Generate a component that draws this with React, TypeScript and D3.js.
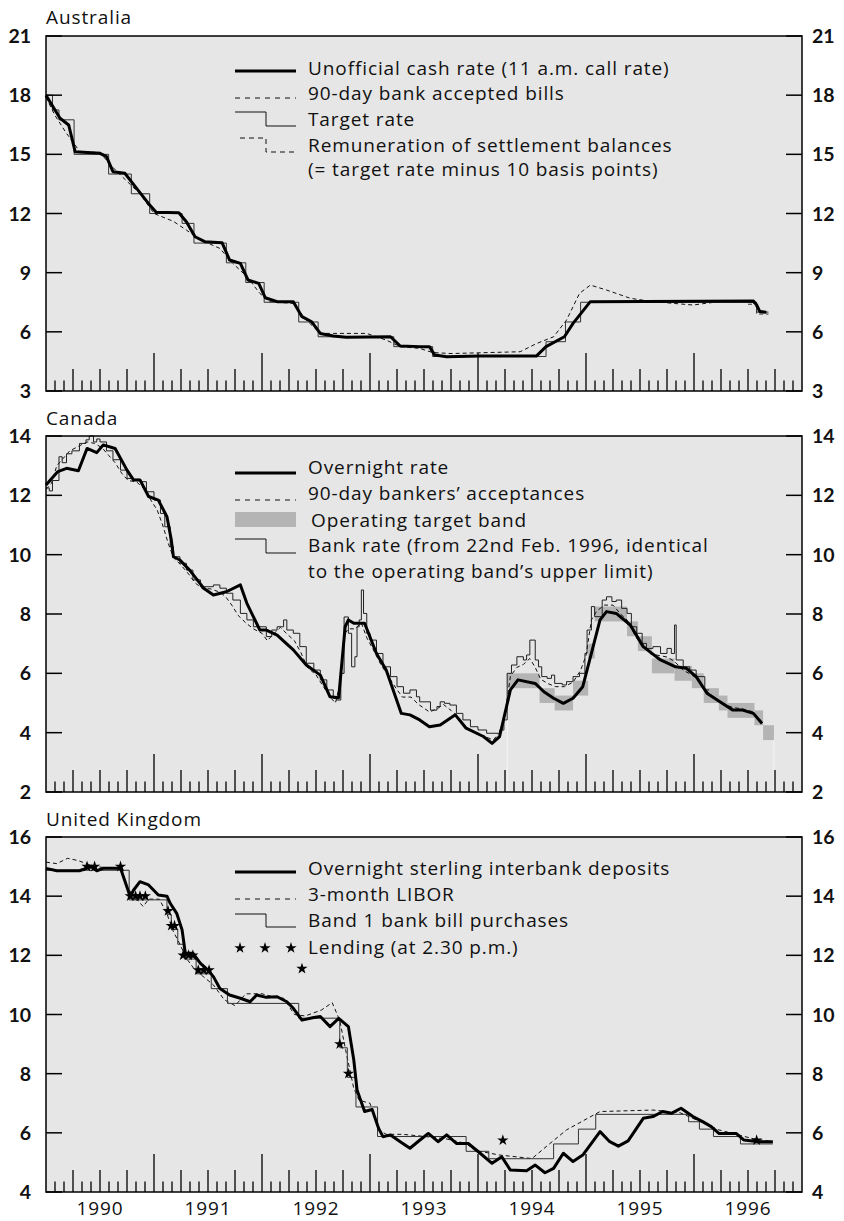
import React from "react";
import * as d3 from "d3";

type Pt = [number, number];

// ---------- shared ----------
const years = [1990, 1991, 1992, 1993, 1994, 1995, 1996];

// ---------- Australia ----------
const auTicks = [3, 6, 9, 12, 15, 18, 21];
const auCash: Pt[] = [
  [1990.0, 18.0], [1990.13, 16.83], [1990.21, 16.49], [1990.27, 15.13], [1990.5, 15.05], [1990.56, 14.88],
  [1990.62, 14.12], [1990.73, 14.04], [1990.85, 13.2], [1990.95, 12.5], [1991.02, 12.06], [1991.23, 12.04],
  [1991.3, 11.58], [1991.38, 10.82], [1991.47, 10.57], [1991.63, 10.52], [1991.7, 9.64], [1991.8, 9.47],
  [1991.87, 8.63], [1991.97, 8.46], [1992.03, 7.73], [1992.14, 7.53], [1992.29, 7.53], [1992.37, 6.77],
  [1992.46, 6.51], [1992.54, 5.92], [1992.66, 5.79], [1992.78, 5.72], [1993.19, 5.75], [1993.28, 5.28],
  [1993.46, 5.25], [1993.55, 5.25], [1993.6, 4.82], [1993.71, 4.74], [1994.02, 4.77], [1994.54, 4.77],
  [1994.63, 5.25], [1994.8, 5.75], [1994.88, 6.43], [1995.04, 7.53], [1996.55, 7.56], [1996.58, 7.36],
  [1996.61, 7.02], [1996.67, 6.99],
];
const auBills: Pt[] = [
  [1990.0, 17.9], [1990.08, 17.0], [1990.19, 16.06], [1990.28, 15.4], [1990.31, 15.1], [1990.5, 15.1],
  [1990.59, 14.5], [1990.69, 13.95], [1990.87, 13.0], [1991.0, 12.0], [1991.18, 11.6], [1991.3, 11.16],
  [1991.43, 10.66], [1991.61, 10.23], [1991.73, 9.47], [1991.86, 8.8], [1991.98, 7.95], [1992.07, 7.53],
  [1992.29, 7.44], [1992.41, 6.6], [1992.54, 5.92], [1992.66, 5.92], [1992.97, 5.92], [1993.15, 5.58],
  [1993.28, 5.25], [1993.46, 5.16], [1993.58, 4.95], [1993.75, 4.9], [1994.1, 4.95], [1994.39, 4.99],
  [1994.54, 5.4], [1994.7, 5.75], [1994.82, 6.6], [1994.94, 7.95], [1995.04, 8.37], [1995.19, 8.12],
  [1995.41, 7.7], [1995.62, 7.53], [1995.99, 7.36], [1996.23, 7.53], [1996.54, 7.53], [1996.6, 7.1],
  [1996.67, 7.02],
];
const auTarget: Pt[] = [
  [1990.0, 18.0], [1990.06, 17.25], [1990.12, 16.75], [1990.26, 15.0], [1990.58, 14.0], [1990.79, 13.0],
  [1990.96, 12.0], [1991.26, 11.5], [1991.37, 10.5], [1991.67, 9.5], [1991.85, 8.5], [1992.02, 7.5],
  [1992.34, 6.5], [1992.52, 5.75], [1993.22, 5.25], [1993.58, 4.75], [1994.63, 5.5], [1994.81, 6.5],
  [1994.95, 7.5], [1996.58, 7.0], [1996.69, 7.0],
];
const auRemun: Pt[] = [
  [1996.5, 7.4], [1996.58, 6.9], [1996.69, 6.9],
];

// ---------- Canada ----------
const caTicks = [2, 4, 6, 8, 10, 12, 14];
const caOvernight: Pt[] = [
  [1990.0, 12.35], [1990.11, 12.8], [1990.19, 12.91], [1990.3, 12.83], [1990.38, 13.58], [1990.47, 13.44],
  [1990.53, 13.7], [1990.64, 13.58], [1990.75, 12.85], [1990.81, 12.52], [1990.87, 12.52], [1990.95, 11.96],
  [1991.04, 11.84], [1991.12, 11.28], [1991.16, 10.5], [1991.18, 9.93], [1991.24, 9.82], [1991.33, 9.48],
  [1991.46, 8.87], [1991.55, 8.64], [1991.67, 8.75], [1991.8, 8.98], [1991.86, 8.36], [1991.98, 7.46],
  [1992.04, 7.46], [1992.14, 7.29], [1992.29, 6.79], [1992.41, 6.28], [1992.54, 5.94], [1992.63, 5.21],
  [1992.71, 5.18], [1992.77, 7.57], [1992.8, 7.8], [1992.85, 7.69], [1992.95, 7.69], [1993.06, 6.67],
  [1993.15, 6.11], [1993.29, 4.65], [1993.37, 4.6], [1993.46, 4.43], [1993.55, 4.2], [1993.65, 4.26],
  [1993.79, 4.6], [1993.89, 4.15], [1994.05, 3.87], [1994.13, 3.64], [1994.2, 3.87], [1994.3, 5.44],
  [1994.37, 5.78], [1994.53, 5.66], [1994.61, 5.38], [1994.7, 5.16], [1994.79, 4.99], [1994.88, 5.16],
  [1994.97, 5.55], [1995.13, 7.8], [1995.19, 8.08], [1995.28, 8.02], [1995.41, 7.63], [1995.53, 6.9],
  [1995.69, 6.45], [1995.83, 6.22], [1995.93, 6.17], [1996.02, 5.89], [1996.12, 5.33], [1996.24, 5.04],
  [1996.36, 4.76], [1996.45, 4.76], [1996.55, 4.65], [1996.63, 4.31],
];
const caBA: Pt[] = [
  [1990.0, 12.2], [1990.05, 12.4], [1990.1, 13.0], [1990.16, 13.25], [1990.22, 13.5], [1990.3, 13.65],
  [1990.38, 13.8], [1990.45, 13.75], [1990.52, 13.6], [1990.58, 13.35], [1990.64, 13.1], [1990.7, 12.75],
  [1990.76, 12.5], [1990.84, 12.45], [1990.9, 12.25], [1990.96, 11.9], [1991.03, 11.5], [1991.08, 11.0],
  [1991.13, 10.4], [1991.18, 9.9], [1991.25, 9.65], [1991.32, 9.35], [1991.38, 9.05], [1991.45, 8.85],
  [1991.52, 8.85], [1991.6, 8.75], [1991.66, 8.6], [1991.72, 8.3], [1991.78, 7.95], [1991.85, 7.7],
  [1991.92, 7.5], [1992.0, 7.35], [1992.05, 7.1], [1992.1, 7.3], [1992.17, 7.55], [1992.24, 7.3],
  [1992.3, 7.1], [1992.36, 6.7], [1992.42, 6.2], [1992.5, 5.95], [1992.56, 5.6], [1992.63, 5.2],
  [1992.68, 5.0], [1992.72, 5.6], [1992.76, 7.3], [1992.8, 7.5], [1992.86, 7.5], [1992.92, 7.7],
  [1992.97, 7.2], [1993.03, 6.8], [1993.1, 6.3], [1993.17, 5.9], [1993.24, 5.5], [1993.3, 5.2],
  [1993.38, 5.2], [1993.45, 4.95], [1993.55, 4.7], [1993.62, 4.8], [1993.68, 4.95], [1993.75, 4.75],
  [1993.82, 4.5], [1993.9, 4.15], [1994.0, 3.95], [1994.08, 3.85], [1994.14, 3.75], [1994.2, 4.0],
  [1994.25, 4.6], [1994.3, 5.9], [1994.36, 6.2], [1994.42, 6.3], [1994.48, 6.5], [1994.53, 6.2],
  [1994.58, 5.8], [1994.65, 5.65], [1994.72, 5.55], [1994.8, 5.55], [1994.88, 5.7], [1994.95, 6.1],
  [1995.0, 6.6], [1995.05, 7.8], [1995.1, 8.1], [1995.17, 8.3], [1995.25, 8.3], [1995.32, 8.0],
  [1995.38, 7.8], [1995.45, 7.3], [1995.52, 6.9], [1995.6, 6.65], [1995.68, 6.6], [1995.75, 6.55],
  [1995.82, 6.4], [1995.9, 6.1], [1995.98, 5.95], [1996.05, 5.75], [1996.12, 5.4], [1996.2, 5.1],
  [1996.28, 4.95], [1996.36, 4.85], [1996.45, 4.8], [1996.55, 4.7], [1996.62, 4.4],
];
const caBankRate: Pt[] = [
  [1990.0, 12.25], [1990.03, 12.15], [1990.06, 12.5], [1990.12, 13.3], [1990.15, 13.1], [1990.19, 13.4],
  [1990.24, 13.5], [1990.31, 13.75], [1990.37, 13.87], [1990.4, 14.0], [1990.44, 13.8], [1990.47, 13.9],
  [1990.5, 13.8], [1990.56, 13.5], [1990.62, 13.2], [1990.69, 12.85], [1990.75, 12.57], [1990.81, 12.54],
  [1990.87, 12.46], [1990.93, 12.12], [1991.0, 11.84], [1991.06, 11.39], [1991.1, 10.94], [1991.15, 10.27],
  [1991.18, 9.93], [1991.24, 9.71], [1991.3, 9.48], [1991.36, 9.15], [1991.43, 8.92], [1991.49, 8.92],
  [1991.55, 8.98], [1991.61, 8.87], [1991.67, 8.7], [1991.73, 8.47], [1991.8, 8.02], [1991.86, 7.8],
  [1991.92, 7.57], [1991.98, 7.57], [1992.04, 7.24], [1992.09, 7.46], [1992.14, 7.57], [1992.2, 7.8],
  [1992.23, 7.46], [1992.29, 7.35], [1992.35, 6.9], [1992.41, 6.34], [1992.48, 6.11], [1992.54, 5.78],
  [1992.6, 5.44], [1992.66, 5.16], [1992.69, 5.1], [1992.73, 6.0], [1992.76, 7.9], [1992.8, 7.35],
  [1992.83, 6.22], [1992.86, 6.56], [1992.88, 7.57], [1992.9, 7.8], [1992.92, 8.81], [1992.94, 8.02],
  [1992.97, 7.35], [1993.0, 7.12], [1993.06, 6.67], [1993.12, 6.22], [1993.19, 5.89], [1993.25, 5.55],
  [1993.31, 5.33], [1993.37, 5.44], [1993.43, 5.21], [1993.46, 5.04], [1993.56, 4.76], [1993.62, 4.88],
  [1993.65, 5.04], [1993.69, 4.99], [1993.74, 4.93], [1993.8, 4.65], [1993.86, 4.43], [1993.93, 4.2],
  [1994.0, 4.09], [1994.08, 3.98], [1994.14, 3.98], [1994.2, 4.09], [1994.24, 4.43], [1994.27, 6.0],
  [1994.31, 6.28], [1994.36, 6.56], [1994.42, 6.45], [1994.45, 6.62], [1994.48, 7.12], [1994.53, 6.45],
  [1994.56, 6.22], [1994.59, 5.89], [1994.64, 5.83], [1994.68, 5.94], [1994.71, 5.66], [1994.78, 5.61],
  [1994.82, 5.72], [1994.88, 5.89], [1994.94, 6.0], [1994.99, 6.67], [1995.01, 7.46], [1995.05, 8.25],
  [1995.08, 7.91], [1995.15, 8.47], [1995.19, 8.58], [1995.24, 8.42], [1995.28, 8.47], [1995.33, 8.19],
  [1995.38, 8.02], [1995.42, 7.57], [1995.47, 7.35], [1995.52, 7.01], [1995.56, 6.84], [1995.62, 6.9],
  [1995.69, 6.67], [1995.75, 6.84], [1995.79, 6.67], [1995.82, 7.63], [1995.835, 6.45], [1995.9, 6.22],
  [1995.96, 6.11], [1996.02, 5.89], [1996.1, 5.44], [1996.14, 5.44],
];
const caBand: { t0: number; t1: number; lo: number; hi: number }[] = [
  { t0: 1994.27, t1: 1994.57, lo: 5.5, hi: 6.0 },
  { t0: 1994.57, t1: 1994.71, lo: 5.0, hi: 5.5 },
  { t0: 1994.71, t1: 1994.88, lo: 4.75, hi: 5.25 },
  { t0: 1994.88, t1: 1995.02, lo: 5.25, hi: 5.75 },
  { t0: 1995.02, t1: 1995.08, lo: 6.5, hi: 7.0 },
  { t0: 1995.08, t1: 1995.38, lo: 7.75, hi: 8.25 },
  { t0: 1995.38, t1: 1995.48, lo: 7.25, hi: 7.75 },
  { t0: 1995.48, t1: 1995.61, lo: 6.75, hi: 7.25 },
  { t0: 1995.61, t1: 1995.82, lo: 6.0, hi: 6.5 },
  { t0: 1995.82, t1: 1995.98, lo: 5.75, hi: 6.25 },
  { t0: 1995.98, t1: 1996.09, lo: 5.5, hi: 6.0 },
  { t0: 1996.09, t1: 1996.23, lo: 5.0, hi: 5.5 },
  { t0: 1996.23, t1: 1996.31, lo: 4.75, hi: 5.25 },
  { t0: 1996.31, t1: 1996.56, lo: 4.5, hi: 5.0 },
  { t0: 1996.56, t1: 1996.64, lo: 4.25, hi: 4.75 },
  { t0: 1996.64, t1: 1996.74, lo: 3.75, hi: 4.25 },
];

// ---------- United Kingdom ----------
const ukTicks = [4, 6, 8, 10, 12, 14, 16];
const ukOvernight: Pt[] = [
  [1990.0, 14.94], [1990.1, 14.86], [1990.31, 14.86], [1990.42, 15.0], [1990.47, 14.86], [1990.53, 14.94],
  [1990.69, 14.94], [1990.78, 13.98], [1990.81, 14.2], [1990.87, 14.49], [1990.95, 14.38], [1991.04, 14.04],
  [1991.12, 14.0], [1991.15, 13.76], [1991.21, 13.42], [1991.26, 12.86], [1991.29, 12.07], [1991.36, 12.07],
  [1991.43, 11.73], [1991.5, 11.5], [1991.55, 11.28], [1991.61, 10.88], [1991.7, 10.66], [1991.8, 10.55],
  [1991.89, 10.43], [1991.95, 10.66], [1992.04, 10.58], [1992.14, 10.6], [1992.23, 10.43], [1992.29, 10.21],
  [1992.37, 9.81], [1992.48, 9.9], [1992.54, 9.93], [1992.63, 9.59], [1992.71, 9.87], [1992.8, 9.59],
  [1992.85, 8.46], [1992.88, 7.45], [1992.95, 6.72], [1993.02, 6.79], [1993.08, 6.15], [1993.12, 5.87],
  [1993.19, 5.93], [1993.28, 5.7], [1993.37, 5.48], [1993.46, 5.75], [1993.54, 5.98], [1993.63, 5.7],
  [1993.71, 5.93], [1993.8, 5.64], [1993.91, 5.64], [1994.02, 5.31], [1994.13, 4.97], [1994.22, 5.19],
  [1994.3, 4.74], [1994.45, 4.72], [1994.53, 4.91], [1994.62, 4.65], [1994.7, 4.8], [1994.79, 5.31],
  [1994.88, 5.03], [1994.97, 5.25], [1995.13, 6.04], [1995.22, 5.7], [1995.3, 5.55], [1995.39, 5.73],
  [1995.53, 6.49], [1995.62, 6.55], [1995.71, 6.72], [1995.79, 6.66], [1995.88, 6.83], [1995.99, 6.55],
  [1996.08, 6.38], [1996.16, 6.21], [1996.23, 5.98], [1996.39, 5.98], [1996.46, 5.76], [1996.6, 5.7],
  [1996.73, 5.7],
];
const ukLibor: Pt[] = [
  [1990.0, 15.15], [1990.1, 15.1], [1990.2, 15.28], [1990.3, 15.2], [1990.45, 15.0], [1990.6, 14.95],
  [1990.7, 14.9], [1990.78, 14.0], [1990.85, 13.85], [1990.9, 13.65], [1990.95, 13.9], [1991.05, 13.9],
  [1991.12, 13.4], [1991.18, 12.8], [1991.25, 12.3], [1991.3, 11.9], [1991.38, 11.5], [1991.45, 11.3],
  [1991.55, 11.0], [1991.65, 10.5], [1991.75, 10.3], [1991.85, 10.7], [1992.0, 10.7], [1992.1, 10.6],
  [1992.2, 10.55], [1992.3, 10.0], [1992.4, 9.95], [1992.55, 10.15], [1992.65, 10.4], [1992.72, 9.8],
  [1992.78, 8.7], [1992.85, 7.5], [1992.9, 7.1], [1993.0, 7.0], [1993.08, 6.1], [1993.15, 5.95],
  [1993.3, 5.95], [1993.5, 5.88], [1993.7, 5.8], [1993.89, 5.64], [1993.98, 5.4], [1994.2, 5.25],
  [1994.5, 5.13], [1994.63, 5.53], [1994.82, 6.1], [1995.13, 6.72], [1995.62, 6.77], [1995.87, 6.68],
  [1995.99, 6.49], [1996.23, 6.1], [1996.55, 5.8], [1996.73, 5.7],
];
const ukBand1: Pt[] = [
  [1990.0, 14.875], [1990.77, 13.875], [1991.12, 13.375], [1991.16, 12.875], [1991.22, 12.375],
  [1991.28, 11.875], [1991.39, 11.375], [1991.53, 10.875], [1991.68, 10.375], [1992.34, 9.875],
  [1992.72, 8.875], [1992.79, 7.875], [1992.87, 6.875], [1993.07, 5.875], [1993.89, 5.375],
  [1994.1, 5.125], [1994.7, 5.625], [1994.93, 6.125], [1995.09, 6.625], [1995.95, 6.375],
  [1996.05, 6.125], [1996.18, 5.875], [1996.43, 5.625], [1996.73, 5.625],
];
const ukLending: Pt[] = [
  [1990.38, 15.0], [1990.45, 15.0], [1990.69, 15.0], [1990.78, 14.0], [1990.83, 14.0], [1990.87, 14.0],
  [1990.92, 14.0], [1991.13, 13.5], [1991.16, 13.0], [1991.19, 13.0], [1991.27, 12.0], [1991.32, 12.0],
  [1991.36, 12.0], [1991.41, 11.5], [1991.46, 11.5], [1991.51, 11.5], [1992.37, 11.55], [1992.72, 9.0],
  [1992.8, 8.0], [1994.23, 5.75], [1996.58, 5.75],
];

// ---------- layout ----------
const FONT = "'Open Sans', Lato, 'DejaVu Sans', sans-serif";
const NUMFONT = "Lato, 'Open Sans', sans-serif";
const FS = 19;
const LS = 0.9;
const X0 = 46;
const X1 = 802;
const x = d3.scaleLinear().domain([1990, 1997]).range([X0, X1]);
const BG = "#e6e6e6";
const BAND = "#b4b4b4";

type PanelProps = {
  top: number;
  bottom: number;
  ticks: number[];
  title: string;
  titleY: number;
  showYears?: boolean;
  render: (y: d3.ScaleLinear<number, number>) => React.ReactNode;
};

function Panel({ top, bottom, ticks, title, titleY, showYears, render }: PanelProps) {
  const y = d3.scaleLinear().domain([ticks[0], ticks[ticks.length - 1]]).range([bottom, top]);
  const months = d3.range(1, 84);
  return (
    <g>
      <rect x={X0} y={top} width={X1 - X0} height={bottom - top} fill={BG} />
      <text x={X0} y={titleY} fontSize={FS} letterSpacing={LS} fontFamily={FONT} fill="#111">{title}</text>
      {render(y)}
      {months.map((m) => {
        const len = m % 12 === 0 ? 38 : m % 3 === 0 ? 22 : 10.5;
        const xx = x(1990 + m / 12);
        return <line key={m} x1={xx} x2={xx} y1={bottom} y2={bottom - len} stroke="#000" strokeWidth={1.3} />;
      })}
      {ticks.map((t) => (
        <g key={t}>
          <line x1={X0} x2={X0 + 16} y1={y(t)} y2={y(t)} stroke="#000" strokeWidth={1.5} />
          <line x1={X1 - 16} x2={X1} y1={y(t)} y2={y(t)} stroke="#000" strokeWidth={1.5} />
          <text x={31} y={y(t)} dy="0.36em" textAnchor="end" fontSize={19.5} fontWeight={700} fontFamily={NUMFONT} fill="#111">{t}</text>
          <text x={812} y={y(t)} dy="0.36em" textAnchor="start" fontSize={19.5} fontWeight={700} fontFamily={NUMFONT} fill="#111">{t}</text>
        </g>
      ))}
      <rect x={X0} y={top} width={X1 - X0} height={bottom - top} fill="none" stroke="#000" strokeWidth={1.5} />
      {showYears &&
        years.map((yr) => (
          <text key={yr} x={x(yr + 0.5)} y={1215} textAnchor="middle" fontSize={FS} letterSpacing={LS} fontFamily={FONT} fill="#111">{yr}</text>
        ))}
    </g>
  );
}

function lineGen(y: d3.ScaleLinear<number, number>, step = false) {
  const g = d3.line<Pt>().x((d) => x(d[0])).y((d) => y(d[1]));
  if (step) g.curve(d3.curveStepAfter);
  return g;
}

const star = d3.symbol().type(d3.symbolStar).size(40)() as string;

const LX0 = 235, LXM = 266, LX1 = 296, TX = 308;

function LegendText({ lines }: { lines: [number, string, number?][] }) {
  return (
    <g>
      {lines.map(([yy, s, xx], i) => (
        <text key={i} x={xx ?? TX} y={yy} fontSize={FS} letterSpacing={LS} fontFamily={FONT} fill="#111">{s}</text>
      ))}
    </g>
  );
}

export default function App() {
  return (
    <svg width={844} height={1221} style={{ position: "absolute", left: 0, top: 0, background: "#fff" }}>
      {/* Australia */}
      <Panel
        top={36}
        bottom={391}
        ticks={auTicks}
        title="Australia"
        titleY={24}
        render={(y) => (
          <g>
            <path d={lineGen(y)(auBills) ?? ""} fill="none" stroke="#111" strokeWidth={1} strokeDasharray="4,3" />
            <path d={lineGen(y, true)(auTarget) ?? ""} fill="none" stroke="#333" strokeWidth={1} />
            <path d={lineGen(y, true)(auRemun) ?? ""} fill="none" stroke="#333" strokeWidth={1} strokeDasharray="4,3" />
            <path d={lineGen(y)(auCash) ?? ""} fill="none" stroke="#000" strokeWidth={3} strokeLinejoin="round" />
            <line x1={LX0} x2={LX1} y1={71} y2={71} stroke="#000" strokeWidth={3} />
            <line x1={LX0} x2={LX1} y1={98} y2={98} stroke="#111" strokeWidth={1} strokeDasharray="5,5" />
            <path d={`M${LX0},112H${LXM}V126H${LX1}`} fill="none" stroke="#111" strokeWidth={1} />
            <path d={`M${LX0 + 5},138H${LXM}V152H${LX1}`} fill="none" stroke="#111" strokeWidth={1} strokeDasharray="5,4" />
            <LegendText
              lines={[
                [75, "Unofficial cash rate (11 a.m. call rate)"],
                [100, "90-day bank accepted bills"],
                [126, "Target rate"],
                [152, "Remuneration of settlement balances"],
                [176, "(= target rate minus 10 basis points)"],
              ]}
            />
          </g>
        )}
      />
      {/* Canada */}
      <Panel
        top={436}
        bottom={792}
        ticks={caTicks}
        title="Canada"
        titleY={425}
        render={(y) => (
          <g>
            {caBand.map((b, i) => (
              <rect key={i} x={x(b.t0)} y={y(b.hi)} width={x(b.t1) - x(b.t0)} height={y(b.lo) - y(b.hi)} fill={BAND} />
            ))}
            <line x1={x(caBand[0].t0)} x2={x(caBand[0].t0)} y1={y(caBand[0].lo)} y2={792} stroke="#f4f4f4" strokeWidth={1} />
            <line x1={x(caBand[caBand.length - 1].t1)} x2={x(caBand[caBand.length - 1].t1)} y1={y(caBand[caBand.length - 1].lo)} y2={792} stroke="#f4f4f4" strokeWidth={1} />
            <path d={lineGen(y)(caBA) ?? ""} fill="none" stroke="#111" strokeWidth={1} strokeDasharray="4,3" />
            <path d={lineGen(y, true)(caBankRate) ?? ""} fill="none" stroke="#222" strokeWidth={1} />
            <path d={lineGen(y)(caOvernight) ?? ""} fill="none" stroke="#000" strokeWidth={3} strokeLinejoin="round" />
            <line x1={LX0} x2={LX1} y1={473} y2={473} stroke="#000" strokeWidth={3} />
            <line x1={LX0} x2={LX1} y1={500} y2={500} stroke="#111" strokeWidth={1} strokeDasharray="5,5" />
            <rect x={LX0} y={512} width={LX1 - LX0} height={15} fill={BAND} />
            <path d={`M${LX0},539H${LXM}V553H${LX1}`} fill="none" stroke="#111" strokeWidth={1} />
            <LegendText
              lines={[
                [474, "Overnight rate"],
                [500, "90-day bankers\u2019 acceptances"],
                [527, "Operating target band", 311],
                [552, "Bank rate (from 22nd Feb. 1996, identical"],
                [578, "to the operating band\u2019s upper limit)"],
              ]}
            />
          </g>
        )}
      />
      {/* United Kingdom */}
      <Panel
        top={837}
        bottom={1192}
        ticks={ukTicks}
        title="United Kingdom"
        titleY={826}
        showYears
        render={(y) => (
          <g>
            <path d={lineGen(y)(ukLibor) ?? ""} fill="none" stroke="#111" strokeWidth={1} strokeDasharray="4,3" />
            <path d={lineGen(y, true)(ukBand1) ?? ""} fill="none" stroke="#333" strokeWidth={1} />
            <path d={lineGen(y)(ukOvernight) ?? ""} fill="none" stroke="#000" strokeWidth={3} strokeLinejoin="round" />
            {ukLending.map((d, i) => (
              <path key={i} d={star} transform={`translate(${x(d[0])},${y(d[1])})`} fill="#000" />
            ))}
            <line x1={LX0} x2={LX1} y1={872} y2={872} stroke="#000" strokeWidth={3} />
            <line x1={LX0} x2={LX1} y1={899} y2={899} stroke="#111" strokeWidth={1} strokeDasharray="5,5" />
            <path d={`M${LX0},914H${LXM}V927H${LX1}`} fill="none" stroke="#111" strokeWidth={1} />
            {[240, 265, 291].map((sx) => (
              <path key={sx} d={star} transform={`translate(${sx},948)`} fill="#000" />
            ))}
            <LegendText
              lines={[
                [875, "Overnight sterling interbank deposits"],
                [901, "3-month LIBOR"],
                [927, "Band 1 bank bill purchases"],
                [954, "Lending (at 2.30 p.m.)"],
              ]}
            />
          </g>
        )}
      />
    </svg>
  );
}
